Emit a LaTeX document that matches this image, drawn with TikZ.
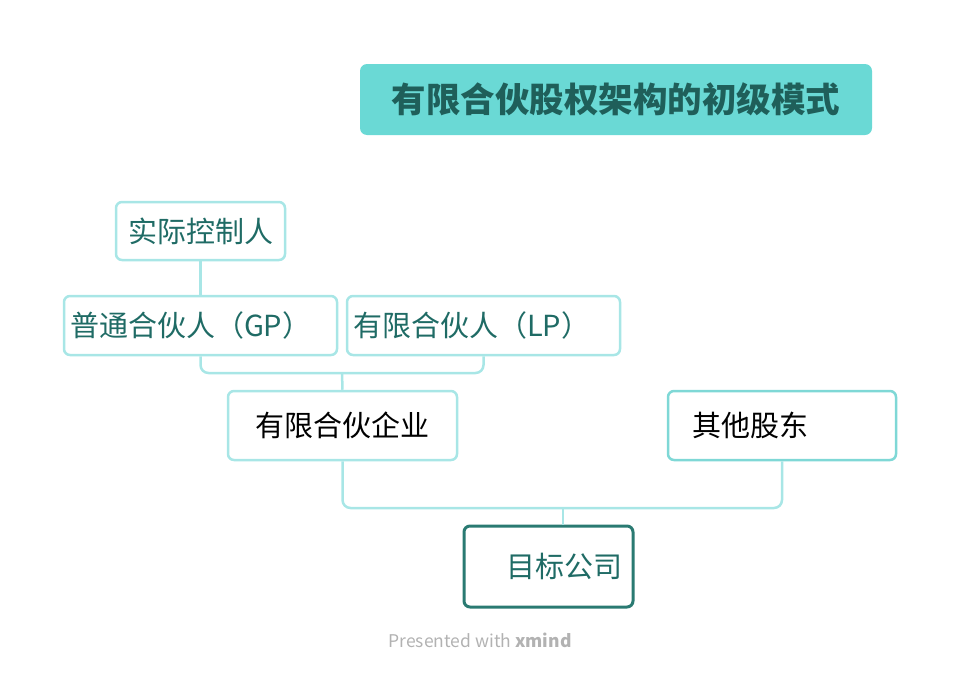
\documentclass[tikz,border=0pt]{standalone}
\usepackage{fontspec}
\setmainfont{Noto Sans CJK SC}
\usetikzlibrary{positioning}
\definecolor{titlefill}{HTML}{6AD9D5}
\definecolor{titletext}{HTML}{1F5F5A}
\definecolor{paleline}{HTML}{A8E6E6}
\definecolor{midline}{HTML}{7FD8D6}
\definecolor{darkline}{HTML}{2A7A72}
\definecolor{nodetext}{HTML}{1F6B65}
\begin{document}
\begin{tikzpicture}[x=1pt,y=-1pt,
  box/.style={draw=paleline, line width=2.5pt, rounded corners=6pt, inner sep=0pt, font=\fontsize{29}{33}\selectfont, text=nodetext},
  link/.style={draw=paleline, line width=2.5pt, rounded corners=8pt}]
  \useasboundingbox (0,0) rectangle (961,672);
  % title
  \node[fill=titlefill, rounded corners=7pt, minimum width=512pt, minimum height=71pt, font=\fontsize{34.5}{38}\selectfont\bfseries, text=titletext] (title) at (616,99.5) {有限合伙股权架构的初级模式};
  % nodes
  \node[box, minimum width=169pt, minimum height=58pt] (ctrl) at (200.5,231) {实际控制人};
  \node[box, minimum width=273pt, minimum height=59pt, text width=261pt, align=left] (gp) at (200.5,325.5) {普通合伙人（GP）};
  \node[box, minimum width=273pt, minimum height=59pt, text width=261pt, align=left] (lp) at (483.5,325.5) {有限合伙人（LP）};
  \node[box, minimum width=229pt, minimum height=69pt, text=black] (fund) at (342.5,425.5) {有限合伙企业};
  \node[box, draw=midline, minimum width=228pt, minimum height=69pt, text width=180pt, align=left, text=black] (other) at (782,425.5) {其他股东};
  \node[box, draw=darkline, line width=3pt, minimum width=169pt, minimum height=81pt, text width=148pt, align=right] (target) at (548.5,566.5) {目标公司};
  % connectors
  \coordinate (j1) at (342,373);
  \coordinate (j2) at (563,508);
  \draw[link] (ctrl.south) -- (gp.north);
  \draw[link] (gp.south) |- (j1) -| (lp.south);
  \draw[link] (j1) -- (fund.north);
  \draw[link] (fund.south) |- (j2) -| (other.south);
  \draw[link] (j2) -- (target.north -| j2);
  % footer
  \node[text=black!30, font=\fontsize{17.5}{20}\selectfont] (foot) at (480,640) {Presented with \textbf{xmind}};
\end{tikzpicture}
\end{document}
